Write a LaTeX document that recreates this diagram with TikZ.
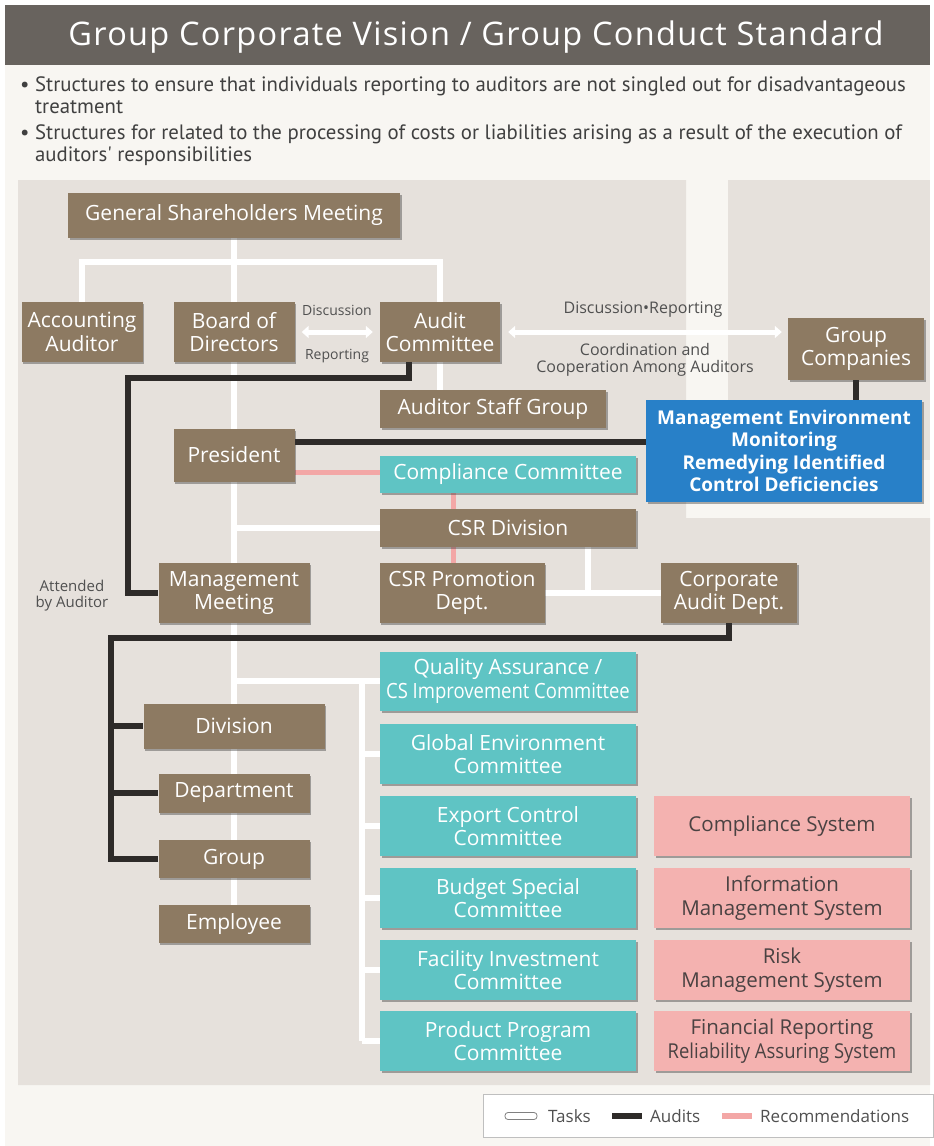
\documentclass[tikz,border=0pt]{standalone}
\usepackage{fontspec}
\setmainfont{Open Sans}
\newfontfamily\notefont{PT Sans}
\newfontfamily\titlefont[LetterSpace=4]{Open Sans}
\usetikzlibrary{arrows.meta,shadows}
\definecolor{titlegray}{HTML}{68635E}
\definecolor{cream}{HTML}{F8F6F2}
\definecolor{panelgray}{HTML}{E6E1DC}
\definecolor{unitbrown}{HTML}{8D7A62}
\definecolor{cteal}{HTML}{5FC4C4}
\definecolor{syspink}{HTML}{F4B2B0}
\definecolor{systext}{HTML}{4A4242}
\definecolor{monblue}{HTML}{2880C8}
\definecolor{auditblack}{HTML}{2E2B29}
\definecolor{recpink}{HTML}{F3A7A6}
\definecolor{notegray}{HTML}{505050}
\pgfdeclarelayer{panel}
\pgfdeclarelayer{wires}
\pgfsetlayers{panel,wires,main}
\tikzset{
  unit/.style={
    shape = rectangle,
    fill = unitbrown,
    text = white,
    align = center,
    inner sep = 0pt,
    font = \fontsize{21}{23.5}\selectfont,
    drop shadow = {shadow xshift=1.5pt, shadow yshift=-2pt, opacity=0.4, fill=black!80}
  },
  committee/.style={unit, fill=cteal},
  system/.style={unit, fill=syspink, text=systext, font=\fontsize{20.5}{23.5}\selectfont},
  monitor/.style={unit, fill=monblue, font=\bfseries\fontsize{19}{22.5}\selectfont},
  boxsize/.style 2 args={minimum width=#1, minimum height=#2},
  tasks/.style={draw=white, line width=6pt},
  audits/.style={draw=auditblack, line width=6pt},
  recomm/.style={draw=recpink, line width=5pt},
  note/.style={text=notegray, align=center, inner sep=0pt, font=\fontsize{14}{15.5}\selectfont},
  bullet/.style={anchor=north west, align=left, inner sep=0pt, text=black!75,
    font=\notefont\fontsize{20.8}{22.5}\selectfont}
}

\begin{document}
\begin{tikzpicture}[x=1pt, y=-1pt]
  \useasboundingbox (0,0) rectangle (934,1146);
  \begin{pgfonlayer}{panel}
    \fill[white] (0,0) rectangle (934,1146);
    \fill[cream] (5,5) rectangle (930,1146);
    \fill[titlegray] (5,5) rectangle (930,65);
    \fill[panelgray] (18,180) -- (686,180) -- (686,518) -- (930,518)
      -- (930,1085) -- (18,1085) -- cycle;
    \fill[panelgray] (728,180) rectangle (930,460);
  \end{pgfonlayer}

  % heading
  \node[text=white, font=\titlefont\fontsize{32.5}{34}\selectfont] (title) at (476,37)
    {Group Corporate Vision / Group Conduct Standard};
  \node[bullet] (b1) at (20,76) {\textbullet\ Structures to ensure that individuals reporting to auditors are not singled out for disadvantageous\\
    \hphantom{\textbullet\ }treatment};
  \node[bullet] (b2) at (20,124) {\textbullet\ Structures for related to the processing of costs or liabilities arising as a result of the execution of\\
    \hphantom{\textbullet\ }auditors' responsibilities};

  % top level
  \node[unit, boxsize={332pt}{45pt}] (gsm) at (234,215) {General Shareholders Meeting};
  \node[unit, boxsize={121pt}{60pt}] (acct) at (82,332) {Accounting\\Auditor};
  \node[unit, boxsize={121pt}{60pt}] (board) at (234,332) {Board of\\Directors};
  \node[unit, boxsize={120pt}{60pt}] (audit) at (440,332) {Audit\\Committee};
  \node[unit, boxsize={136pt}{62pt}] (grpco) at (856,349) {Group\\Companies};
  \node[unit, boxsize={226pt}{38pt}] (staff) at (493,409) {Auditor Staff Group};
  \node[monitor, boxsize={276pt}{102pt}] (mon) at (784,451)
    {Management Environment\\Monitoring\\Remedying Identified\\Control Deficiencies};

  % executive side
  \node[unit, boxsize={121pt}{53pt}] (pres) at (234,455) {President};
  \node[committee, boxsize={256pt}{37pt}] (comp) at (508,474) {Compliance Committee};
  \node[unit, boxsize={256pt}{38pt}] (csrdiv) at (508,528) {CSR Division};
  \node[unit, boxsize={165pt}{60pt}] (csrprom) at (462,593) {CSR Promotion\\Dept.};
  \node[unit, boxsize={136pt}{60pt}] (corpaudit) at (729,593) {Corporate\\Audit Dept.};
  \node[unit, boxsize={151pt}{60pt}] (mgmt) at (234,593) {Management\\Meeting};
  \node[note, font=\fontsize{15}{16}\selectfont] (attend) at (72,596) {Attended\\by Auditor};

  % line organisation
  \node[unit, boxsize={181pt}{45pt}] (division) at (234,726) {Division};
  \node[unit, boxsize={151pt}{39pt}] (dept) at (234,793) {Department};
  \node[unit, boxsize={151pt}{38pt}] (grp) at (234,859) {Group};
  \node[unit, boxsize={151pt}{38pt}] (emp) at (234,924) {Employee};

  % committees and systems
  \node[committee, boxsize={256pt}{59pt}] (qa) at (508,681)
    {Quality Assurance /\\\scalebox{0.88}[1]{CS Improvement Committee}};
  \foreach \n/\y/\t in {gec/754/{Global Environment\\Committee},
                        exp/826/{Export Control\\Committee},
                        bud/898/{Budget Special\\Committee},
                        fac/970/{Facility Investment\\Committee},
                        prod/1041/{Product Program\\Committee}}{
    \node[committee, boxsize={256pt}{60pt}] (\n) at (508,\y) {\t};
  }
  \foreach \n/\y/\t in {cs/826/{Compliance System},
                        ims/898/{Information\\Management System},
                        rms/970/{Risk\\Management System},
                        frs/1041/{Financial Reporting\\\scalebox{0.9}[1]{Reliability Assuring System}}}{
    \node[system, boxsize={256pt}{60pt}] (\n) at (782,\y) {\t};
  }

  % labels on the arrows
  \node[note] (disc) at (337,310) {Discussion};
  \node[note] (rep) at (337,356) {Reporting};
  \node[note, font=\fontsize{16}{17}\selectfont] (discrep) at (643,310) {Discussion\textbullet Reporting};
  \node[note, font=\fontsize{16}{16.5}\selectfont] (coop) at (645,360) {Coordination and\\Cooperation Among Auditors};

  \coordinate (cbus) at (362,681);
  \coordinate (mbus) at ([xshift=-30pt]mgmt.west);
  \coordinate (abus) at ([xshift=-47pt]grp.west);

  \begin{pgfonlayer}{wires}
    % tasks
    \draw[tasks] (gsm.south) -- (emp.north);
    \draw[tasks] (acct.north) -- ++(0,-40) -| (audit.north);
    \draw[tasks] (audit.south) -- (staff.north -| audit.south);
    \draw[tasks] (csrdiv.west -| gsm.south) -- (csrdiv.west);
    \draw[tasks] ([xshift=80pt]csrdiv.south) -- ([xshift=80pt]csrdiv.south |- corpaudit.west);
    \draw[tasks] (csrprom.east) -- (corpaudit.west);
    \draw[tasks] (qa.west -| gsm.south) -- (qa.west);
    \draw[tasks] (cbus) -- (cbus |- prod.west);
    \foreach \n in {gec,exp,bud,fac,prod}
      \draw[tasks] (\n.west -| cbus) -- (\n.west);
    \draw[tasks, line width=5pt, {Triangle[width=12pt,length=7pt]}-{Triangle[width=12pt,length=7pt]}]
      ([xshift=7pt]board.east) -- ([xshift=-7pt]audit.west);
    \draw[tasks, line width=5pt, {Triangle[width=12pt,length=7pt]}-{Triangle[width=12pt,length=7pt]}]
      ([xshift=8pt]audit.east) -- ([xshift=-6pt]audit.east -| grpco.west);
    % audits
    \draw[audits] ([xshift=-31pt]audit.south) -- ++(0,16) -| (mbus) -- (mgmt.west);
    \draw[audits] ([yshift=13pt]pres.east) -- ([yshift=13pt]pres.east -| mon.west);
    \draw[audits] (grpco.south) -- (grpco.south |- mon.north);
    \draw[audits] (corpaudit.south) -- ++(0,15) -| (abus) -- (grp.west);
    \draw[audits] (division.west -| abus) -- (division.west);
    \draw[audits] (dept.west -| abus) -- (dept.west);
    % recommendations
    \draw[recomm] ([yshift=-17pt]pres.east) -- ([yshift=-17pt]pres.east -| comp.west);
    \draw[recomm] ([xshift=-55pt]comp.south) -- ([xshift=-55pt]csrdiv.north);
    \draw[recomm] ([xshift=-55pt]csrdiv.south) -- ([xshift=-55pt]csrdiv.south |- csrprom.north);
  \end{pgfonlayer}

  % legend
  \node[draw=black!25, fill=white, boxsize={450pt}{43pt}] (legend) at (708,1116) {};
  \node[anchor=west, inner sep=0pt, text=notegray, font=\fontsize{17}{18}\selectfont] (ltasks) at (548,1116) {Tasks};
  \node[anchor=west, inner sep=0pt, text=notegray, font=\fontsize{17}{18}\selectfont] (laudits) at (650,1116) {Audits};
  \node[anchor=west, inner sep=0pt, text=notegray, font=\fontsize{17}{18}\selectfont] (lrec) at (760,1116) {Recommendations};
  \draw[black!50, fill=white, rounded corners=3pt, line width=0.8pt]
    ([xshift=-43pt,yshift=3.5pt]ltasks.west) rectangle ([xshift=-11pt,yshift=-3.5pt]ltasks.west);
  \fill[auditblack] ([xshift=-38pt,yshift=3pt]laudits.west) rectangle ([xshift=-8pt,yshift=-3pt]laudits.west);
  \fill[recpink] ([xshift=-38pt,yshift=3pt]lrec.west) rectangle ([xshift=-8pt,yshift=-3pt]lrec.west);
\end{tikzpicture}
\end{document}
